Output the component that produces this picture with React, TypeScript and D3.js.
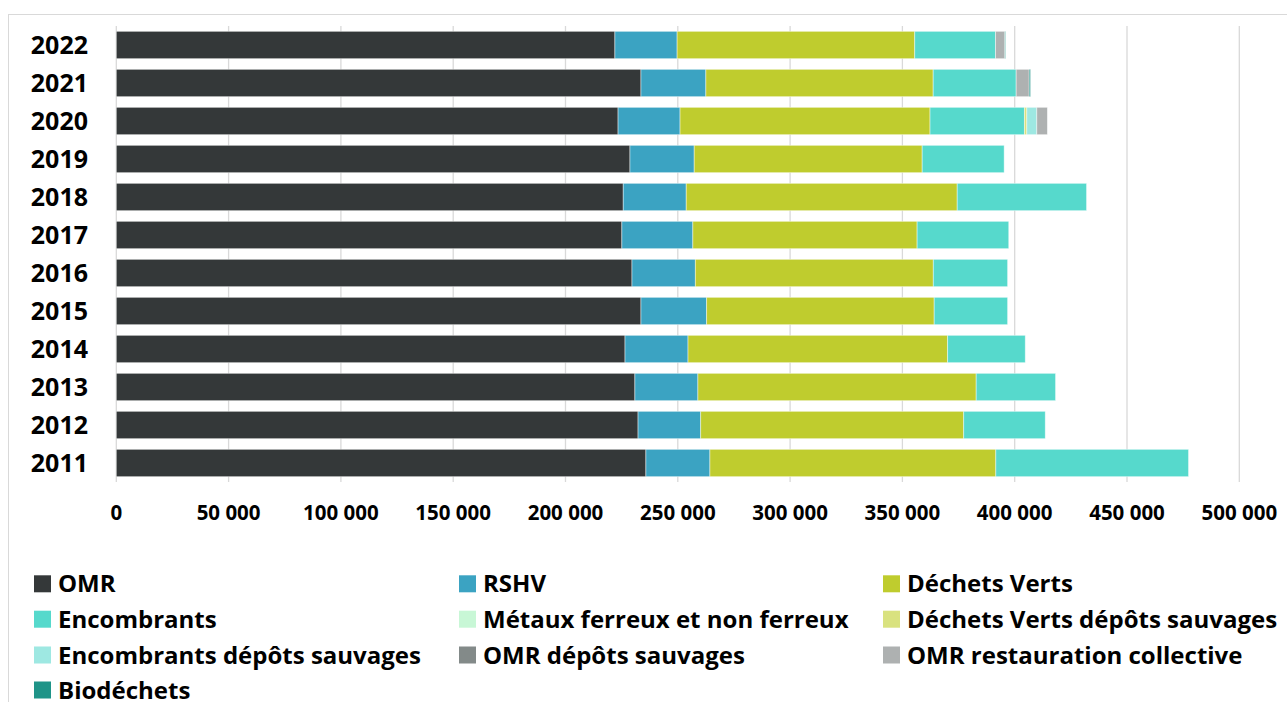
import React from "react";
import * as d3 from "d3";

const years = [2011, 2012, 2013, 2014, 2015, 2016, 2017, 2018, 2019, 2020, 2021, 2022];
const seriesNames = [
  "OMR",
  "RSHV",
  "Déchets Verts",
  "Encombrants",
  "Métaux ferreux et non ferreux",
  "Déchets Verts dépôts sauvages",
  "Encombrants dépôts sauvages",
  "OMR dépôts sauvages",
  "OMR restauration collective",
  "Biodéchets",
];
const seriesColors = [
  "#343839",
  "#3ba3c2",
  "#bfcc2e",
  "#56d9cc",
  "#c8f7d6",
  "#d9e27f",
  "#9ee8e2",
  "#838a89",
  "#aeb1b1",
  "#1f9488",
];
const omr = [235800, 232300, 230900, 226500, 233600, 229600, 225100, 225700, 228700, 223400, 233600, 222000];
const rshv = [28500, 27900, 28050, 28050, 29250, 28200, 31600, 28050, 28600, 27600, 28900, 27700];
const dechetsVerts = [127300, 117100, 123900, 115600, 101300, 105950, 99850, 120650, 101500, 111300, 101200, 105800];
const encombrants = [85800, 36300, 35350, 34550, 32700, 33100, 40800, 57600, 36500, 42000, 36950, 36000];
const metaux = [0, 0, 0, 0, 0, 0, 0, 0, 0, 0, 0, 0];
const dvSauvages = [0, 0, 0, 0, 0, 0, 0, 0, 0, 1100, 0, 0];
const encSauvages = [0, 0, 0, 0, 0, 0, 0, 0, 0, 4450, 0, 0];
const omrSauvages = [0, 0, 0, 0, 0, 0, 0, 0, 0, 0, 0, 0];
const omrRestauration = [0, 0, 0, 0, 0, 0, 0, 0, 0, 4700, 5800, 4100];
const biodechets = [0, 0, 0, 0, 0, 0, 0, 0, 0, 0, 600, 350];
const xTicks = [0, 50000, 100000, 150000, 200000, 250000, 300000, 350000, 400000, 450000, 500000];

const seriesValues = [omr, rshv, dechetsVerts, encombrants, metaux, dvSauvages, encSauvages, omrSauvages, omrRestauration, biodechets];

const FONT = "'Open Sans', Lato, sans-serif";

export default function App() {
  const W = 1287;
  const H = 702;
  const x = d3.scaleLinear().domain([0, 500000]).range([116.3, 1239.3]);
  const yearOrder = [...years].reverse().map(String);
  const y = d3.scaleBand().domain(yearOrder).range([26, 482]).paddingInner(0.28).paddingOuter(0.14);

  const table = years.map((yr, i) => {
    const row: any = { year: String(yr) };
    seriesNames.forEach((n, k) => (row[n] = seriesValues[k][i]));
    return row;
  });
  const stacked = d3.stack().keys(seriesNames)(table);
  const fmt = (v: number) => d3.format(",")(v).replace(/,/g, " ");

  const legendCols = [34, 459, 883];
  const legendRows = [592.3, 627.7, 663.5, 698.5];

  return (
    <svg width={W} height={H} style={{ position: "absolute", left: 0, top: 0, background: "#fff" }}>
      <rect x={8.5} y={14.5} width={W + 10} height={H + 10} fill="#fff" stroke="#d9d9d9" strokeWidth={1} />
      {xTicks.map((t) => (
        <line key={"g" + t} x1={x(t)} x2={x(t)} y1={26} y2={482} stroke="#d9d9d9" strokeWidth={1.3} />
      ))}
      {stacked.map((layer, k) => (
        <g key={layer.key} fill={seriesColors[k]}>
          {layer.map((d: any, i: number) => {
            const w = x(d[1]) - x(d[0]);
            if (w <= 0) return null;
            return (
              <rect
                key={i}
                x={x(d[0])}
                y={y(d.data.year)}
                width={w}
                height={y.bandwidth()}
                stroke="#ffffff"
                strokeOpacity={0.55}
                strokeWidth={0.8}
              />
            );
          })}
        </g>
      ))}
      {yearOrder.map((yr) => (
        <text
          key={yr}
          x={88}
          y={(y(yr) as number) + y.bandwidth() / 2}
          dy="0.36em"
          textAnchor="end"
          fontFamily={FONT}
          fontWeight={700}
          fontSize={25}
          fill="#000"
        >
          {yr}
        </text>
      ))}
      {xTicks.map((t) => (
        <text
          key={"t" + t}
          x={x(t)}
          y={520}
          textAnchor="middle"
          fontFamily={FONT}
          fontWeight={700}
          fontSize={20.5}
          fill="#000"
        >
          {fmt(t)}
        </text>
      ))}
      {seriesNames.map((n, k) => {
        const col = k % 3;
        const row = Math.floor(k / 3);
        const bx = legendCols[col];
        const by = legendRows[row];
        return (
          <g key={"l" + n}>
            <rect x={bx} y={by - 17} width={17} height={17} fill={seriesColors[k]} />
            <text x={bx + 24} y={by} fontFamily={FONT} fontWeight={700} fontSize={24} fill="#000">
              {n}
            </text>
          </g>
        );
      })}
    </svg>
  );
}
